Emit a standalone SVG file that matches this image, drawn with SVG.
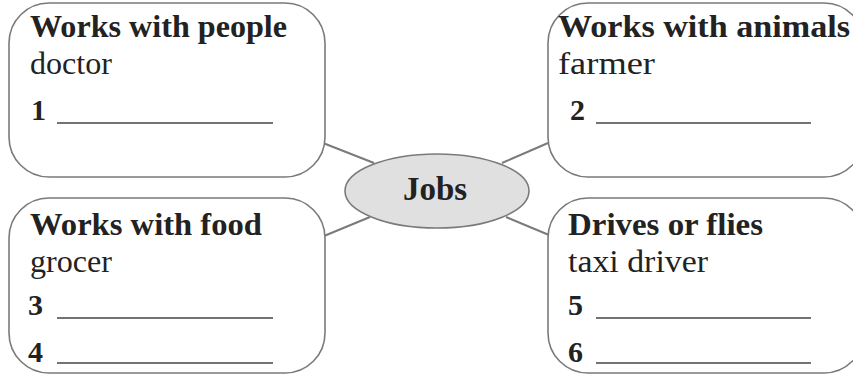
<svg xmlns="http://www.w3.org/2000/svg" width="853" height="374" viewBox="0 0 853 374">
<style>
.box{fill:#fff;stroke:#7a7a7a;stroke-width:1.6}
.link{stroke:#7a7a7a;stroke-width:2;fill:none}
.title{font-family:"Liberation Serif","DejaVu Serif",serif;font-weight:bold;font-size:31px;fill:#222}
.ex{font-family:"Liberation Serif","DejaVu Serif",serif;font-size:31px;fill:#222}
.num{font-family:"Liberation Serif","DejaVu Serif",serif;font-weight:bold;font-size:30px;fill:#222}
.blank{stroke:#444;stroke-width:1.5}
.hub{fill:#e0e0e0;stroke:#7a7a7a;stroke-width:1.6}
.hubt{font-family:"Liberation Serif","DejaVu Serif",serif;font-weight:bold;font-size:34px;fill:#222}
</style>
<rect width="853" height="374" fill="#fff"/>
<g id="connectors">
<line class="link" x1="323" y1="143" x2="374" y2="163"/>
<line class="link" x1="502" y1="163" x2="548" y2="143"/>
<line class="link" x1="370" y1="217" x2="324" y2="236"/>
<line class="link" x1="506" y1="217" x2="549" y2="235"/>
</g>
<g id="people">
<rect class="box" x="9" y="3" width="316" height="174" rx="40" ry="40"/>
<text class="title" x="30" y="37" textLength="257" lengthAdjust="spacingAndGlyphs">Works with people</text>
<text class="ex" x="30" y="74" textLength="82" lengthAdjust="spacingAndGlyphs">doctor</text>
<text class="num" x="31" y="120">1</text>
<line class="blank" x1="57" y1="123" x2="273" y2="123"/>
</g>
<g id="animals">
<rect class="box" x="548" y="3" width="316" height="174" rx="40" ry="40"/>
<text class="title" x="558" y="37" textLength="292" lengthAdjust="spacingAndGlyphs">Works with animals</text>
<text class="ex" x="558" y="74" textLength="97" lengthAdjust="spacingAndGlyphs">farmer</text>
<text class="num" x="570" y="120">2</text>
<line class="blank" x1="596" y1="123" x2="811" y2="123"/>
</g>
<g id="food">
<rect class="box" x="9" y="198" width="316" height="175" rx="40" ry="40"/>
<text class="title" x="30" y="235" textLength="232" lengthAdjust="spacingAndGlyphs">Works with food</text>
<text class="ex" x="30" y="272" textLength="82" lengthAdjust="spacingAndGlyphs">grocer</text>
<text class="num" x="28" y="315">3</text>
<line class="blank" x1="57" y1="318" x2="273" y2="318"/>
<text class="num" x="28" y="362">4</text>
<line class="blank" x1="57" y1="363" x2="273" y2="363"/>
</g>
<g id="drives">
<rect class="box" x="548" y="198" width="316" height="175" rx="40" ry="40"/>
<text class="title" x="568" y="235" textLength="195" lengthAdjust="spacingAndGlyphs">Drives or flies</text>
<text class="ex" x="568" y="272" textLength="140" lengthAdjust="spacingAndGlyphs">taxi driver</text>
<text class="num" x="568" y="315">5</text>
<line class="blank" x1="596" y1="318" x2="811" y2="318"/>
<text class="num" x="568" y="362">6</text>
<line class="blank" x1="596" y1="363" x2="811" y2="363"/>
</g>
<g id="jobs">
<ellipse class="hub" cx="437" cy="191" rx="92" ry="37"/>
<text class="hubt" x="435" y="200" text-anchor="middle" textLength="64" lengthAdjust="spacingAndGlyphs">Jobs</text>
</g>
</svg>
